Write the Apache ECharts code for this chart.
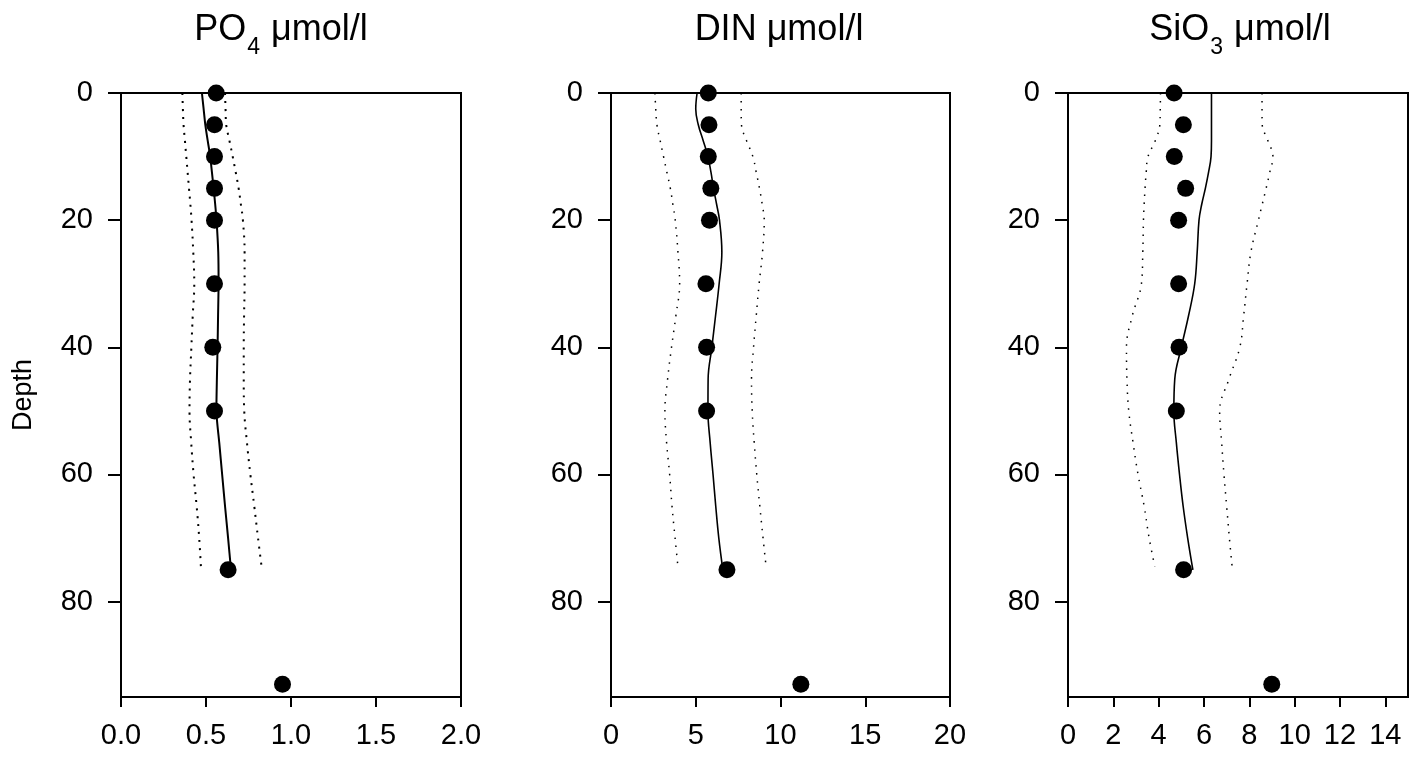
<!DOCTYPE html>
<html>
<head>
<meta charset="utf-8">
<script src="https://cdn.jsdelivr.net/npm/echarts@6/dist/echarts.min.js"></script>
<style>
html,body{margin:0;padding:0;background:#fff;}
#chart{width:1419px;height:764px;}
</style>
</head>
<body>
<div id="chart"></div>
<script>
// Measured samples
const depths = [0, 5, 10, 15, 20, 30, 40, 50, 75, 93];
const po4  = [0.56, 0.55, 0.55, 0.55, 0.55, 0.55, 0.54, 0.55, 0.63, 0.95];
const din  = [5.74, 5.78, 5.74, 5.89, 5.81, 5.60, 5.64, 5.64, 6.84, 11.2];
const sio3 = [4.68, 5.09, 4.69, 5.19, 4.88, 4.88, 4.90, 4.78, 5.10, 8.99];

// Fitted profile and confidence band
const fitDepths = [0, 2.5, 5, 7.5, 10, 12.5, 15, 17.5, 20, 25, 30, 35, 40, 45, 50, 55, 60, 65, 70, 75];
const ciDepths  = [0, 2.5, 5, 7.5, 10, 12.5, 15, 17.5, 20, 25, 30, 35, 40, 45, 50, 55, 60, 65, 70, 74.5];

const po4Fit  = [0.476,0.486,0.496,0.510,0.525,0.535,0.545,0.554,0.562,0.572,0.574,0.571,0.568,0.564,0.561,0.578,0.595,0.612,0.630,0.647];
const po4Low  = [0.361,0.364,0.368,0.376,0.384,0.392,0.400,0.408,0.415,0.425,0.431,0.422,0.414,0.406,0.403,0.413,0.427,0.445,0.460,0.470];
const po4High = [0.612,0.615,0.619,0.638,0.657,0.675,0.692,0.705,0.717,0.727,0.727,0.724,0.722,0.722,0.725,0.741,0.761,0.784,0.806,0.827];

const dinFit  = [5.08,5.00,5.15,5.44,5.72,5.90,6.05,6.23,6.40,6.54,6.38,6.17,5.95,5.73,5.72,5.85,6.02,6.18,6.36,6.60];
const dinLow  = [2.59,2.64,2.71,2.90,3.10,3.30,3.50,3.65,3.79,3.95,4.05,3.83,3.57,3.34,3.18,3.28,3.46,3.60,3.78,3.95];
const dinHigh = [7.68,7.68,7.70,8.00,8.37,8.57,8.76,8.92,9.04,8.94,8.74,8.57,8.41,8.29,8.33,8.45,8.60,8.78,8.97,9.15];

const sio3Fit  = [6.33,6.33,6.33,6.33,6.31,6.20,6.06,5.90,5.78,5.70,5.59,5.32,5.00,4.71,4.67,4.78,4.92,5.08,5.28,5.51];
const sio3Low  = [4.08,4.07,4.05,3.85,3.53,3.45,3.40,3.36,3.33,3.30,3.24,2.84,2.58,2.60,2.68,2.87,3.09,3.36,3.58,3.83];
const sio3High = [8.56,8.56,8.57,8.82,9.04,8.90,8.74,8.57,8.40,8.07,7.90,7.75,7.58,7.10,6.69,6.78,6.88,7.00,7.12,7.24];

// Axis ticks
const depthTicks = [0, 20, 40, 60, 80];
const po4Ticks  = [0, 0.5, 1.0, 1.5, 2.0];
const dinTicks  = [0, 5, 10, 15, 20];
const sio3Ticks = [0, 2, 4, 6, 8, 10, 12, 14];

const FONT = "'Liberation Sans', Arial, sans-serif";
const zip = (xs, ys) => xs.map((x, i) => [x, ys[i]]);

const panels = [
  {left: 121, width: 340, xmax: 2, ticks: po4Ticks, fmt: v => v.toFixed(1),
   pts: po4, fit: po4Fit, lo: po4Low, hi: po4High, fitW: 2, dotW: 2, dash: [2, 6], fitSmooth: 0.2},
  {left: 611, width: 339, xmax: 20, ticks: dinTicks, fmt: v => String(v),
   pts: din, fit: dinFit, lo: dinLow, hi: dinHigh, fitW: 1.6, dotW: 1.5, dash: [1.5, 6.5], fitSmooth: 0.4},
  {left: 1068, width: 340, xmax: 15, ticks: sio3Ticks, fmt: v => String(v),
   pts: sio3, fit: sio3Fit, lo: sio3Low, hi: sio3High, fitW: 1.6, dotW: 1.5, dash: [1.5, 6.5], fitSmooth: 0.4}
];

const grids = [], xAxes = [], yAxes = [], series = [];
panels.forEach((p, i) => {
  grids.push({left: p.left, top: 93, width: p.width, height: 604, show: true,
    borderColor: '#000', borderWidth: 2, backgroundColor: 'transparent'});
  xAxes.push({
    type: 'value', gridIndex: i, min: 0, max: p.xmax, position: 'bottom',
    axisLine: {show: true, onZero: false, lineStyle: {color: '#000', width: 2}},
    axisTick: {show: true, inside: false, length: 10, lineStyle: {color: '#000', width: 2}, customValues: p.ticks},
    axisLabel: {show: true, margin: 24, color: '#000', fontSize: 29, fontFamily: FONT,
      customValues: p.ticks, formatter: p.fmt},
    splitLine: {show: false}
  });
  yAxes.push({
    type: 'value', gridIndex: i, min: 0, max: 95, inverse: true,
    name: i === 0 ? 'Depth' : '', nameLocation: 'middle', nameRotate: 90, nameGap: 84,
    nameTextStyle: {color: '#000', fontSize: 27, fontFamily: FONT},
    axisLine: {show: true, onZero: false, lineStyle: {color: '#000', width: 2}},
    axisTick: {show: true, inside: false, length: 13, lineStyle: {color: '#000', width: 2}, customValues: depthTicks},
    axisLabel: {show: true, margin: 28, color: '#000', fontSize: 29, fontFamily: FONT, customValues: depthTicks},
    splitLine: {show: false}
  });
  const lineBase = {type: 'line', xAxisIndex: i, yAxisIndex: i, showSymbol: false, symbol: 'none',
    silent: true, animation: false};
  series.push(Object.assign({}, lineBase, {data: zip(p.lo, ciDepths), smooth: 0.4,
    lineStyle: {color: '#000', width: p.dotW, type: p.dash}}));
  series.push(Object.assign({}, lineBase, {data: zip(p.hi, ciDepths), smooth: 0.4,
    lineStyle: {color: '#000', width: p.dotW, type: p.dash}}));
  series.push(Object.assign({}, lineBase, {data: zip(p.fit, fitDepths), smooth: p.fitSmooth,
    lineStyle: {color: '#000', width: p.fitW}}));
  series.push({type: 'scatter', xAxisIndex: i, yAxisIndex: i, symbol: 'circle', symbolSize: 17,
    itemStyle: {color: '#000', opacity: 1}, data: zip(p.pts, depths), animation: false, z: 5});
});

const titleRich = {
  a: {fontSize: 36, fontFamily: FONT, color: '#000', lineHeight: 44, verticalAlign: 'top'},
  s: {fontSize: 23, fontFamily: FONT, color: '#000', lineHeight: 23, verticalAlign: 'top', padding: [24, 1, 0, 1]}
};
const titles = [
  {text: '{a|PO}{s|4}{a| μmol/l}', left: 281},
  {text: '{a|DIN μmol/l}', left: 779},
  {text: '{a|SiO}{s|3}{a| μmol/l}', left: 1240}
].map(t => ({text: t.text, left: t.left, top: 12, textAlign: 'center', padding: 0,
  textStyle: {rich: titleRich, fontSize: 36, fontFamily: FONT, color: '#000', fontWeight: 'normal'}}));

const chart = echarts.init(document.getElementById('chart'), null, {renderer: 'canvas'});
chart.setOption({
  backgroundColor: '#fff',
  animation: false,
  title: titles,
  grid: grids,
  xAxis: xAxes,
  yAxis: yAxes,
  series: series
});
</script>
</body>
</html>
